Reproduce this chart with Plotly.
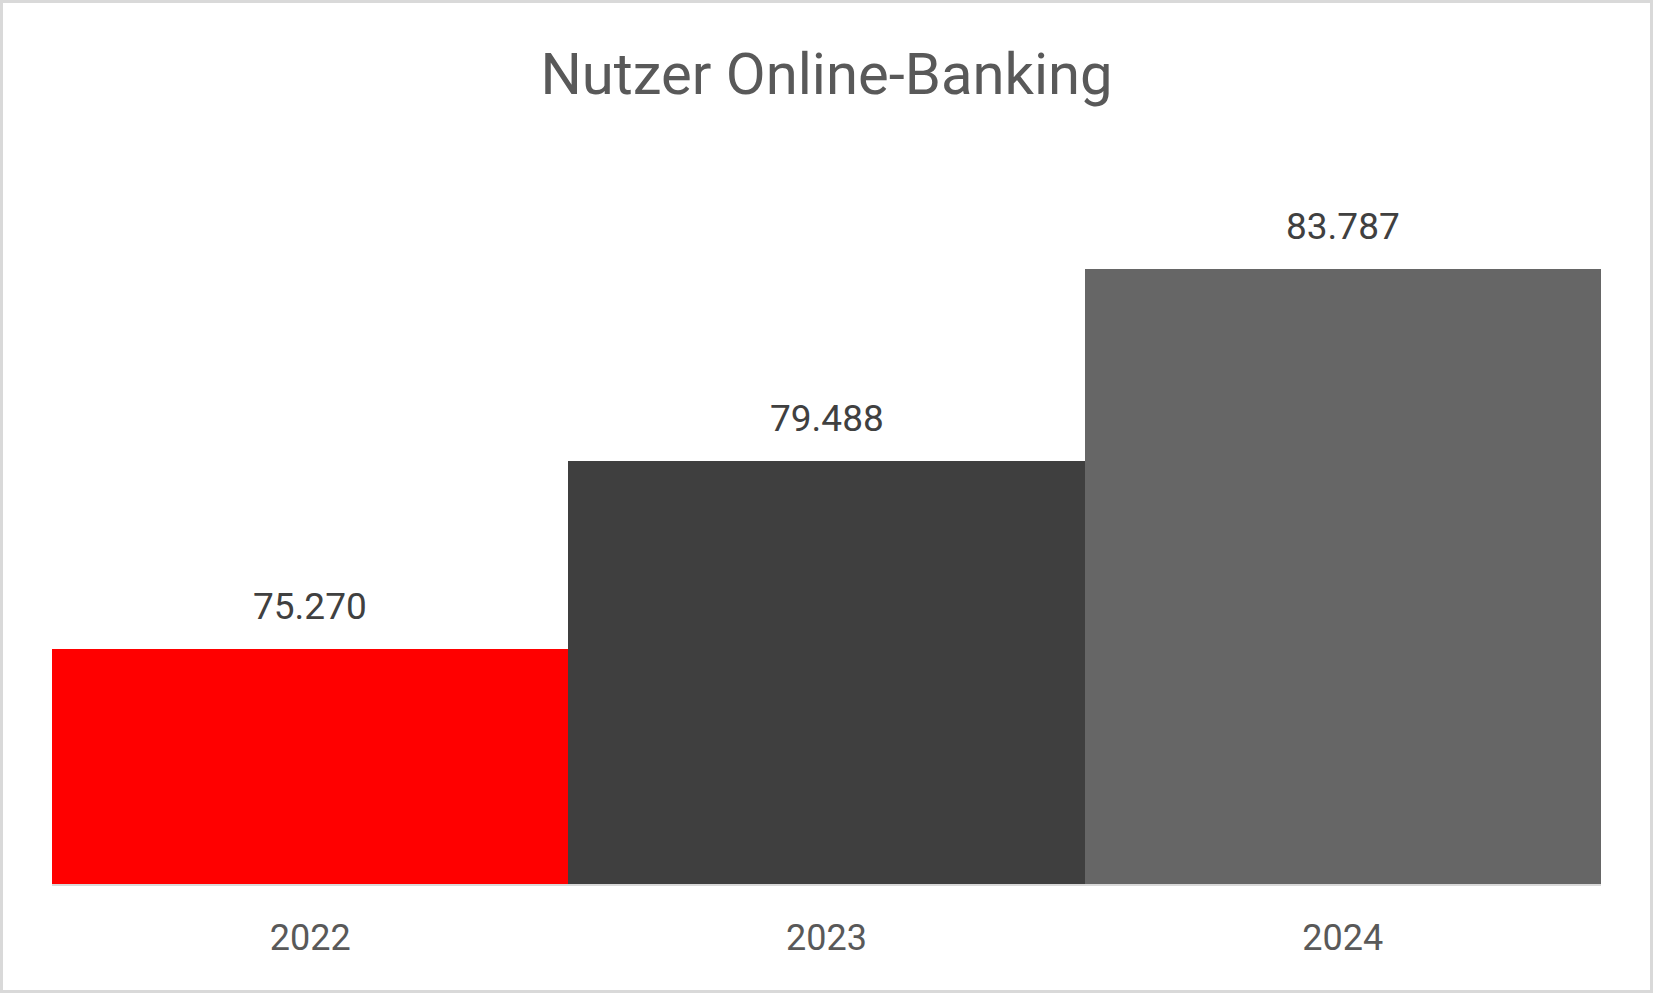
import plotly.graph_objects as go

# ── Data ──────────────────────────────────────────────────────────────────────
years = ["2022", "2023", "2024"]
users = [75270, 79488, 83787]
bar_colors = ["#ff0000", "#3f3f3f", "#666666"]

W, H = 1653, 993
L, R, T, B = 52, 52, 170, 109
pw, ph = W - L - R, H - T - B

fig = go.Figure(go.Bar(
    x=years, y=users,
    marker=dict(color=bar_colors, line=dict(width=0)),
    hoverinfo="skip",
))

# value labels above the bars (German thousands separator)
for i, val in enumerate(users):
    fig.add_annotation(
        x=i, y=val, xref="x", yref="y",
        text=f"{val:,}".replace(",", "."),
        showarrow=False, yanchor="bottom", yshift=19,
        font=dict(family="Roboto", size=37, color="#404040"),
    )

# chart area border
fig.add_shape(
    type="rect", xref="paper", yref="paper",
    x0=-(L - 1.5) / pw, x1=1 + (R - 1.5) / pw,
    y0=-(B - 1.5) / ph, y1=1 + (T - 1.5) / ph,
    line=dict(color="#d9d9d9", width=3), fillcolor="rgba(0,0,0,0)",
    layer="below",
)

fig.update_layout(
    width=W, height=H,
    title=dict(
        text="Nutzer Online-Banking",
        font=dict(family="Roboto", size=58, color="#595959"),
        x=0.5, xanchor="center",
        y=1 - 74 / H, yref="container", yanchor="middle",
    ),
    paper_bgcolor="white",
    plot_bgcolor="white",
    bargap=0,
    showlegend=False,
    margin=dict(l=L, r=R, t=T, b=B),
    xaxis=dict(
        type="category", range=[-0.5, len(years) - 0.5],
        showline=True, linecolor="#d9d9d9", linewidth=2,
        ticks="", showgrid=False, zeroline=False,
        tickfont=dict(family="Roboto", size=36, color="#595959"),
        ticklabelstandoff=21,
    ),
    yaxis=dict(
        range=[70000, 86000], visible=False, showgrid=False, zeroline=False,
    ),
)

fig.write_html("out.html", config={"displayModeBar": False},
               post_script="document.body.style.margin='0';")
